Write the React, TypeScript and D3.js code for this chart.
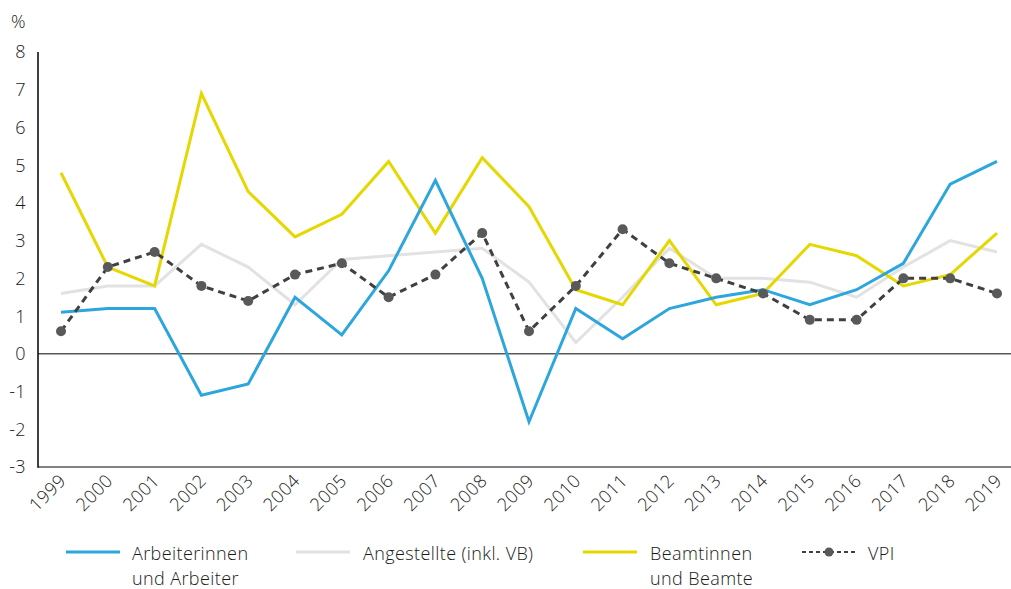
import React from 'react';
import * as d3 from 'd3';

// Jahre und Werte (Veränderung gegenüber Vorjahr in %)
const years = ['1999', '2000', '2001', '2002', '2003', '2004', '2005', '2006', '2007', '2008', '2009',
  '2010', '2011', '2012', '2013', '2014', '2015', '2016', '2017', '2018', '2019'];
const arbeiter = [1.1, 1.2, 1.2, -1.1, -0.8, 1.5, 0.5, 2.2, 4.6, 2.0, -1.8, 1.2, 0.4, 1.2, 1.5, 1.7, 1.3, 1.7, 2.4, 4.5, 5.1];
const angestellte = [1.6, 1.8, 1.8, 2.9, 2.3, 1.3, 2.5, 2.6, 2.7, 2.8, 1.9, 0.3, 1.5, 2.8, 2.0, 2.0, 1.9, 1.5, 2.3, 3.0, 2.7];
const beamte = [4.8, 2.3, 1.8, 6.9, 4.3, 3.1, 3.7, 5.1, 3.2, 5.2, 3.9, 1.7, 1.3, 3.0, 1.3, 1.6, 2.9, 2.6, 1.8, 2.1, 3.2];
const vpi = [0.6, 2.3, 2.7, 1.8, 1.4, 2.1, 2.4, 1.5, 2.1, 3.2, 0.6, 1.8, 3.3, 2.4, 2.0, 1.6, 0.9, 0.9, 2.0, 2.0, 1.6];
const yTicks = [8, 7, 6, 5, 4, 3, 2, 1, 0, -1, -2, -3];

const BLUE = '#2ca6dc';
const GREY = '#e2e2e2';
const YELLOW = '#e5d800';
const DARK = '#404040';
const DOT = '#595959';
const FONT = "'Open Sans', sans-serif";

const App = () => {
  const width = 1011;
  const height = 589;
  const axisX = 38;

  const x = d3.scalePoint<string>().domain(years).range([61, 997]);
  const y = d3.scaleLinear().domain([-3, 8]).range([467, 52]);

  const line = d3.line<number>()
    .x((d, i) => x(years[i]) as number)
    .y(d => y(d));

  const series = [
    { name: 'grey', values: angestellte, color: GREY },
    { name: 'yellow', values: beamte, color: YELLOW },
    { name: 'blue', values: arbeiter, color: BLUE },
  ];

  const textStyle = { fontFamily: FONT, fontWeight: 300, fontSize: 18, fill: '#1a1a1a', letterSpacing: 0.4 };

  return (
    <div style={{ position: 'absolute', left: 0, top: 0 }}>
      <svg width={width} height={height} style={{ display: 'block', background: '#fff' }}>
        {/* % label */}
        <text x={11} y={28} style={textStyle}>%</text>

        {/* y tick labels */}
        {yTicks.map(t => (
          <text key={t} x={26} y={y(t)} dy="0.36em" textAnchor="end" style={textStyle}>{t}</text>
        ))}

        {/* zero line and bottom axis */}
        <line x1={axisX} x2={width} y1={y(0)} y2={y(0)} stroke="#595959" strokeWidth={1.5} />
        <line x1={axisX} x2={width} y1={y(-3)} y2={y(-3)} stroke="#595959" strokeWidth={1.5} />
        <line x1={axisX} x2={axisX} y1={y(8)} y2={y(-3) + 0.75} stroke="#000" strokeWidth={1.5} />

        {/* x labels */}
        {years.map(yr => (
          <text key={yr} textAnchor="end" style={textStyle}
            transform={`translate(${(x(yr) as number) + 6},${482}) rotate(-45)`}>{yr}</text>
        ))}

        {/* series */}
        {series.map(s => (
          <path key={s.name} d={line(s.values) || ''} fill="none" stroke={s.color} strokeWidth={3} strokeLinejoin="miter" />
        ))}
        <path d={line(vpi) || ''} fill="none" stroke={DARK} strokeWidth={3} strokeDasharray="7,5" />
        {vpi.map((v, i) => (
          <circle key={i} cx={x(years[i]) as number} cy={y(v)} r={5} fill={DOT} />
        ))}

        {/* legend */}
        <line x1={66} x2={120} y1={552} y2={552} stroke={BLUE} strokeWidth={3} />
        <text x={132} y={560} style={textStyle}>Arbeiterinnen</text>
        <text x={132} y={585} style={textStyle}>und Arbeiter</text>

        <line x1={296} x2={350} y1={552} y2={552} stroke={GREY} strokeWidth={3} />
        <text x={363} y={560} style={textStyle}>Angestellte (inkl. VB)</text>

        <line x1={583} x2={637} y1={552} y2={552} stroke={YELLOW} strokeWidth={3} />
        <text x={650} y={560} style={textStyle}>Beamtinnen</text>
        <text x={650} y={585} style={textStyle}>und Beamte</text>

        <line x1={802} x2={855} y1={552} y2={552} stroke={DARK} strokeWidth={2} strokeDasharray="4,3" />
        <circle cx={829} cy={552} r={4.5} fill={DOT} />
        <text x={868} y={560} style={textStyle}>VPI</text>
      </svg>
    </div>
  );
};

export default App;
